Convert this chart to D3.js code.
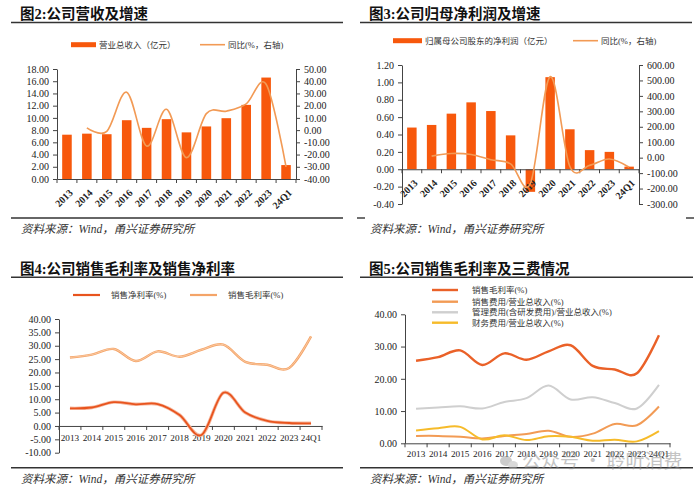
<!DOCTYPE html>
<html><head><meta charset="utf-8">
<script src="https://cdn.jsdelivr.net/npm/d3@7"></script>
<style>
body{margin:0;background:#fff;}
svg{display:block;}
</style></head><body>
<svg id="c" width="700" height="489"></svg>
<script>
// ---------- data ----------
const categories = ["2013","2014","2015","2016","2017","2018","2019","2020","2021","2022","2023","24Q1"];

// Fig 2
const revenue    = [7.25, 7.42, 7.33, 9.62, 8.37, 9.79, 7.63, 8.60, 9.95, 12.13, 16.60, 2.28];
const revenueYoY = [null, 1.8, -1.0, 31.0, -13.0, 17.0, -22.5, 13.5, 15.5, 21.5, 37.5, -30.0];
const fig2LeftTicks  = [0,2,4,6,8,10,12,14,16,18];
const fig2RightTicks = [-40,-30,-20,-10,0,10,20,30,40,50];

// Fig 3
const netProfit    = [0.48, 0.51, 0.64, 0.77, 0.67, 0.39, -0.26, 1.06, 0.46, 0.22, 0.20, 0.03];
const netProfitYoY = [null, 10, 27, 20, -13, -40, -167, 524, -57, -50, -9, -62];
const fig3LeftTicks  = [-0.4,-0.2,0,0.2,0.4,0.6,0.8,1.0,1.2];
const fig3RightTicks = [-300,-200,-100,0,100,200,300,400,500,600];

// Fig 4 / Fig 5
const grossMargin = [25.6, 26.7, 28.8, 24.3, 27.9, 25.9, 28.5, 30.4, 24.0, 22.9, 21.7, 33.5];
const netMargin   = [6.6, 6.9, 8.9, 8.1, 8.2, 4.1, -3.4, 12.4, 5.0, 1.9, 1.1, 1.0];
const fig4Ticks = [-10,-5,0,5,10,15,20,25,30,35,40];

const sellingExp = [2.3, 2.3, 2.0, 1.5, 2.3, 2.9, 3.9, 2.0, 3.0, 6.0, 5.6, 11.4];
const adminExp   = [10.7, 11.1, 11.5, 10.8, 12.8, 14.0, 17.9, 13.6, 14.3, 12.5, 10.8, 18.1];
const financeExp = [4.0, 4.7, 5.1, 1.2, 2.5, 1.0, 2.2, 2.0, 0.8, 1.1, 0.6, 3.8];
const fig5Ticks = [0,10,20,30,40];

// ---------- style ----------
const NUM = "'Liberation Serif','Times New Roman',serif";
const CJK = "'Noto Sans CJK SC','Noto Sans CJK TC',sans-serif";
const MIX = "'Liberation Serif','Noto Sans CJK SC',serif";
const BAR = "#F7580C";
const LINE = "#F29A55";
const fmt = d => d.toFixed(2);

const svg = d3.select("#c");
svg.append("rect").attr("width",700).attr("height",489).attr("fill","#fff");

function frame(opt){
  svg.append("text").attr("x",opt.tx).attr("y",opt.ty).attr("font-family",MIX)
    .attr("font-weight","bold").attr("font-size",14.5).attr("fill","#111").text(opt.title);
  svg.append("line").attr("x1",opt.x0).attr("x2",opt.x1).attr("y1",opt.uy).attr("y2",opt.uy)
    .attr("stroke","#333").attr("stroke-width",1.6);
  if(opt.dash){
    svg.append("line").attr("x1",opt.x0-3).attr("x2",opt.x0+5).attr("y1",opt.sy).attr("y2",opt.sy).attr("stroke","#333").attr("stroke-width",1.4);
    svg.append("line").attr("x1",opt.x1-6).attr("x2",opt.x1+2).attr("y1",opt.sy).attr("y2",opt.sy).attr("stroke","#333").attr("stroke-width",1.4);
  } else {
    svg.append("line").attr("x1",opt.x0).attr("x2",opt.x1).attr("y1",opt.sy).attr("y2",opt.sy)
      .attr("stroke","#333").attr("stroke-width",1.4);
  }
  svg.append("text").attr("x",opt.tx+1).attr("y",opt.sy+15).attr("font-family",MIX)
    .attr("font-style","italic").attr("font-size",11.5).attr("fill","#333").text("资料来源：Wind，甬兴证券研究所");
}

function styleAxis(g, fs){
  g.selectAll("path.domain").attr("stroke","#444").attr("stroke-width",1);
  g.selectAll(".tick line").attr("stroke","#444");
  g.selectAll("text").attr("font-family",NUM).attr("font-size",fs||10).attr("fill","#222");
}

function yAxis(scale, ticks, x, side){
  const ax = (side==="left"?d3.axisLeft(scale):d3.axisRight(scale))
    .tickValues(ticks).tickFormat(fmt).tickSize(4).tickSizeOuter(0).tickPadding(4);
  const g = svg.append("g").attr("transform",`translate(${x},0)`).call(ax);
  styleAxis(g);
  return g;
}

function xAxis(band, y, rotated, pad, fs){
  const ax = d3.axisBottom(band).tickSize(0).tickSizeOuter(0).tickPadding(pad||8);
  const g = svg.append("g").attr("transform",`translate(0,${y})`).call(ax);
  styleAxis(g, fs);
  const [r0] = band.range();
  g.selectAll("line.bt").data(d3.range(band.domain().length+1)).join("line")
    .attr("class","bt").attr("x1",i=>r0+i*band.step()).attr("x2",i=>r0+i*band.step())
    .attr("y1",0).attr("y2",4).attr("stroke","#444");
  if(rotated){
    g.selectAll(".tick text").attr("text-anchor","end").attr("dy","0.35em")
      .attr("y",0).attr("x",0)
      .attr("transform","translate(4,12) rotate(-45)")
      .attr("font-weight","bold");
  }
  return g;
}

function curve(){ return d3.curveCardinal.tension(0); }

// ================= Fig 2 =================
frame({tx:20,ty:19,title:"图2:公司营收及增速",x0:11,x1:343,uy:22.5,sy:218});
{
  const x = d3.scaleBand().domain(categories).range([57,296]).paddingInner(0.52).paddingOuter(0.26);
  const yL = d3.scaleLinear().domain([0,18]).range([179,69]);
  const yR = d3.scaleLinear().domain([-40,50]).range([179,69]);
  yAxis(yL, fig2LeftTicks, 57, "left");
  yAxis(yR, fig2RightTicks, 296, "right");
  svg.append("g").selectAll("rect").data(revenue).join("rect")
    .attr("x",(d,i)=>x(categories[i])).attr("width",x.bandwidth())
    .attr("y",d=>yL(d)).attr("height",d=>yL(0)-yL(d)).attr("fill",BAR);
  xAxis(x, yL(0), true);
  const line = d3.line().defined(d=>d!=null).x((d,i)=>x(categories[i])+x.bandwidth()/2).y(d=>yR(d)).curve(curve());
  svg.append("path").attr("d",line(revenueYoY)).attr("fill","none").attr("stroke",LINE).attr("stroke-width",1.6);
  svg.append("rect").attr("x",71).attr("y",42.2).attr("width",25).attr("height",5).attr("fill",BAR);
  svg.append("text").attr("x",99).attr("y",44.7).attr("dy","0.35em").attr("font-family",MIX).attr("font-size",8.5).attr("fill","#333").text("营业总收入（亿元）");
  svg.append("line").attr("x1",200).attr("x2",225).attr("y1",44.7).attr("y2",44.7).attr("stroke",LINE).attr("stroke-width",1.6);
  svg.append("text").attr("x",228).attr("y",44.7).attr("dy","0.35em").attr("font-family",MIX).attr("font-size",8.5).attr("fill","#333").text("同比(%，右轴)");
}

// ================= Fig 3 =================
frame({tx:369,ty:19,title:"图3:公司归母净利润及增速",x0:360,x1:692,uy:22.5,sy:218,dash:true});
{
  const x = d3.scaleBand().domain(categories).range([402,639]).paddingInner(0.52).paddingOuter(0.26);
  const yL = d3.scaleLinear().domain([-0.4,1.2]).range([204,65]);
  const yR = d3.scaleLinear().domain([-300,600]).range([204,65]);
  yAxis(yL, fig3LeftTicks, 402, "left");
  yAxis(yR, fig3RightTicks, 639, "right");
  svg.append("g").selectAll("rect").data(netProfit).join("rect")
    .attr("x",(d,i)=>x(categories[i])).attr("width",x.bandwidth())
    .attr("y",d=>yL(Math.max(0,d))).attr("height",d=>Math.abs(yL(0)-yL(d))).attr("fill",BAR);
  xAxis(x, yL(0), true);
  const line = d3.line().defined(d=>d!=null).x((d,i)=>x(categories[i])+x.bandwidth()/2).y(d=>yR(d)).curve(curve());
  svg.append("path").attr("d",line(netProfitYoY)).attr("fill","none").attr("stroke",LINE).attr("stroke-width",1.6);
  svg.append("rect").attr("x",393).attr("y",38.2).attr("width",29).attr("height",5).attr("fill",BAR);
  svg.append("text").attr("x",425).attr("y",40.7).attr("dy","0.35em").attr("font-family",MIX).attr("font-size",8.5).attr("fill","#333").text("归属母公司股东的净利润（亿元）");
  svg.append("line").attr("x1",573).attr("x2",598).attr("y1",40.7).attr("y2",40.7).attr("stroke",LINE).attr("stroke-width",1.6);
  svg.append("text").attr("x",601).attr("y",40.7).attr("dy","0.35em").attr("font-family",MIX).attr("font-size",8.5).attr("fill","#333").text("同比(%，右轴)");
}

// ================= Fig 4 =================
frame({tx:20,ty:273.5,title:"图4:公司销售毛利率及销售净利率",x0:11,x1:343,uy:277.3,sy:467.7});
{
  const x = d3.scaleBand().domain(categories).range([59,322]);
  const y = d3.scaleLinear().domain([-10,40]).range([452.7,319]);
  yAxis(y, fig4Ticks, 59, "left");
  xAxis(x, y(0), false, 8.7, 9.2);
  const cx = c => x(c)+x.bandwidth()/2;
  const line = d3.line().x((d,i)=>cx(categories[i])).y(d=>y(d)).curve(curve());
  svg.append("path").attr("d",line(grossMargin)).attr("fill","none").attr("stroke","#F4A468").attr("stroke-width",2.4);
  svg.append("path").attr("d",line(grossMargin)).attr("fill","none").attr("stroke","#FBD2B0").attr("stroke-width",0.8);
  svg.append("path").attr("d",line(netMargin)).attr("fill","none").attr("stroke","#F6B9A0").attr("stroke-width",3.4);
  svg.append("path").attr("d",line(netMargin)).attr("fill","none").attr("stroke","#E8541E").attr("stroke-width",1.8);
  svg.append("line").attr("x1",73).attr("x2",100).attr("y1",295).attr("y2",295).attr("stroke","#E8541E").attr("stroke-width",2.2);
  svg.append("text").attr("x",111).attr("y",295).attr("dy","0.35em").attr("font-family",MIX).attr("font-size",8.5).attr("fill","#333").text("销售净利率(%)");
  svg.append("line").attr("x1",190).attr("x2",217).attr("y1",295).attr("y2",295).attr("stroke","#F4A468").attr("stroke-width",2.2);
  svg.append("text").attr("x",228).attr("y",295).attr("dy","0.35em").attr("font-family",MIX).attr("font-size",8.5).attr("fill","#333").text("销售毛利率(%)");
}

// ================= Fig 5 =================
frame({tx:369,ty:273.5,title:"图5:公司销售毛利率及三费情况",x0:360,x1:693,uy:277.3,sy:467.7});
{
  const x = d3.scaleBand().domain(categories).range([405,670]);
  const y = d3.scaleLinear().domain([0,40]).range([443.3,314.3]);
  yAxis(y, fig5Ticks, 405, "left");
  xAxis(x, y(0), false, 7, 9.2);
  const cx = c => x(c)+x.bandwidth()/2;
  const line = d3.line().x((d,i)=>cx(categories[i])).y(d=>y(d)).curve(curve());
  const series = [
    {name:"销售毛利率(%)", data:grossMargin, color:"#EA6128", w:2.4},
    {name:"销售费用/营业总收入(%)", data:sellingExp, color:"#F29B55", w:2.0},
    {name:"管理费用(含研发费用)/营业总收入(%)", data:adminExp, color:"#CFCFCF", w:2.0},
    {name:"财务费用/营业总收入(%)", data:financeExp, color:"#F6BB2A", w:2.0}
  ];
  const draw = [series[2], series[1], series[3], series[0]];
  draw.forEach(s=>{
    svg.append("path").attr("d",line(s.data)).attr("fill","none").attr("stroke",s.color).attr("stroke-width",s.w);
  });
  const rows = [290, 301.7, 312.3, 322.7];
  series.forEach((s,i)=>{
    svg.append("line").attr("x1",432).attr("x2",458).attr("y1",rows[i]).attr("y2",rows[i]).attr("stroke",s.color).attr("stroke-width",2.4);
    svg.append("text").attr("x",472).attr("y",rows[i]).attr("dy","0.35em").attr("font-family",MIX).attr("font-size",8.5).attr("fill","#333").text(s.name);
  });
}

// watermark
const wm = svg.append("g").attr("opacity",0.5);
wm.append("ellipse").attr("cx",506).attr("cy",461).attr("rx",6).attr("ry",5).attr("fill","#9a9a9a");
wm.append("ellipse").attr("cx",513).attr("cy",465).attr("rx",5).attr("ry",4).attr("fill","#b5b5b5");
wm.append("text").attr("x",522).attr("y",468).attr("font-family",CJK).attr("font-size",19).attr("fill","#8a8a8a").text("公众号 · 聆听消费");
</script>
</body></html>
